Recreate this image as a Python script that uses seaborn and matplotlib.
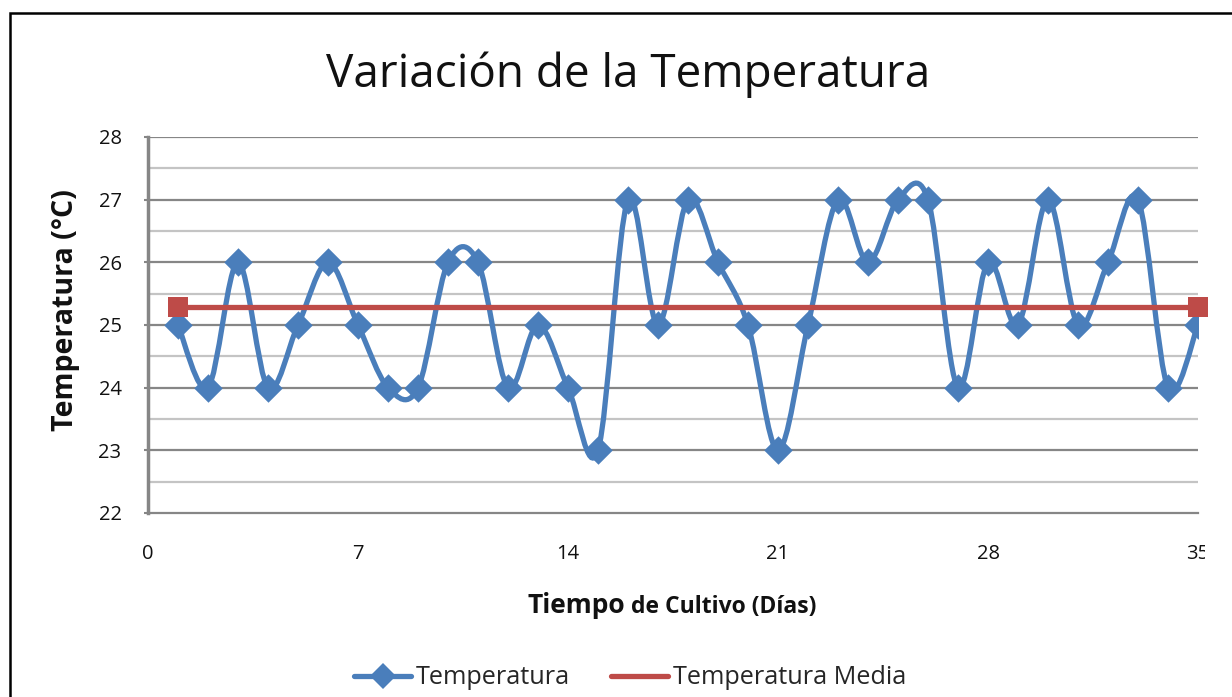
import numpy as np
import pandas as pd
import matplotlib.pyplot as plt
import matplotlib.patches as mpatches
from matplotlib.path import Path
from matplotlib.transforms import Bbox
from matplotlib.lines import Line2D
import seaborn as sns

# ── Data ──────────────────────────────────────────────────────
dias = list(range(1, 36))
temperatura = [25, 24, 26, 24, 25, 26, 25, 24, 24, 26,
               26, 24, 25, 24, 23, 27, 25, 27, 26, 25,
               23, 25, 27, 26, 27, 27, 24, 26, 25, 27,
               25, 26, 27, 24, 25]
x_ticks = [0, 7, 14, 21, 28, 35]
y_ticks = [22, 23, 24, 25, 26, 27, 28]

media = float(np.mean(temperatura))
df = pd.DataFrame({"dia": dias, "temp": temperatura,
                   "media": [media] * len(dias)})

BLUE = "#4A7EBB"
RED = "#BE4B48"
GRID_MAJOR = "#868686"
GRID_MINOR = "#C4C4C4"

# ── Style ─────────────────────────────────────────────────────
sns.set_theme(style="white")
plt.rcParams["font.family"] = ["Open Sans", "DejaVu Sans"]

fig = plt.figure(figsize=(12.32, 6.97), dpi=100)
ax = fig.add_axes([148 / 1232, 1 - 513 / 697, 1050 / 1232, 376 / 697])

# grid
for y in np.arange(22.5, 28, 1.0):
    ax.axhline(y, color=GRID_MINOR, lw=1.6, zorder=0)
for y in y_ticks[1:]:
    ax.axhline(y, color=GRID_MAJOR, lw=1.6, zorder=0)


def smooth_path(xs, ys):
    """Excel-style smoothed line as a cubic Bezier path."""
    pts = np.column_stack([xs, ys]).astype(float)
    n = len(pts)
    verts = [pts[0]]
    codes = [Path.MOVETO]
    for i in range(n - 1):
        p0 = pts[i - 1] if i > 0 else pts[i]
        p1 = pts[i]
        p2 = pts[i + 1]
        p3 = pts[i + 2] if i + 2 < n else pts[i + 1]
        c1 = p1 + (p2 - p0) / 6.0
        c2 = p2 - (p3 - p1) / 6.0
        verts += [c1, c2, p2]
        codes += [Path.CURVE4] * 3
    return Path(verts, codes)


ax.add_patch(mpatches.PathPatch(smooth_path(df["dia"], df["temp"]),
                                facecolor="none", edgecolor=BLUE,
                                lw=3.8, capstyle="round", zorder=3))
sns.scatterplot(data=df, x="dia", y="temp", marker="D", s=210,
                color=BLUE, edgecolor=BLUE, linewidth=0, zorder=4,
                ax=ax, legend=False)

sns.lineplot(data=df, x="dia", y="media", color=RED, lw=3.8,
             zorder=5, ax=ax, legend=False)
ends = df.iloc[[0, -1]]
sns.scatterplot(data=ends, x="dia", y="media", marker="s", s=190,
                color=RED, edgecolor=RED, linewidth=0, zorder=6,
                ax=ax, legend=False, clip_on=False)

ax.set_xlim(0, 35)
ax.set_ylim(22, 28)
ax.set_xticks(x_ticks)
ax.set_yticks(y_ticks)
ax.tick_params(axis="x", length=0, pad=22, labelsize=14.5)
ax.tick_params(axis="y", length=3, width=1.5, color=GRID_MAJOR,
               pad=16, labelsize=14.5, left=True)
for lbl in ax.get_xticklabels() + ax.get_yticklabels():
    lbl.set_color("#111111")

# the chart is cut on the right edge of the picture
clip = Bbox.from_extents(0, 0, 1205, 697)
for lbl in ax.get_xticklabels():
    lbl.set_clip_box(clip)
    lbl.set_clip_on(True)

for side in ["top", "right"]:
    ax.spines[side].set_visible(False)
ax.spines["left"].set_color(GRID_MAJOR)
ax.spines["left"].set_linewidth(2.5)
ax.spines["bottom"].set_color(GRID_MAJOR)
ax.spines["bottom"].set_linewidth(1.6)

ax.set_xlabel("")
ax.set_ylabel("")
fig.text(66 / 1232, 1 - 310 / 697, "Temperatura (°C)", fontsize=20.5,
         fontweight="bold", rotation=90, ha="center", va="center",
         color="#111111")

# x label, "Tiempo" slightly larger than the rest
t1 = fig.text(527 / 1232, 1 - 613 / 697, "Tiempo", fontsize=19,
              fontweight="bold", ha="left", va="baseline", color="#111111")
ax.annotate(" de Cultivo (Días)", xy=(1, 0), xycoords=t1,
            fontsize=16.5, fontweight="bold", ha="left", va="bottom",
            color="#111111")

fig.text(628 / 1232, 1 - 75 / 697, "Variación de la Temperatura",
         fontsize=33, ha="center", va="center", color="#111111")

handles = [
    Line2D([], [], color=BLUE, lw=3.8, marker="D", markersize=13,
           markeredgewidth=0),
    Line2D([], [], color=RED, lw=3.8),
]
fig.legend(handles, ["Temperatura", "Temperatura Media"],
           loc="center", bbox_to_anchor=(630 / 1232, 1 - 678 / 697),
           ncol=2, frameon=False, fontsize=18.2, handlelength=2.25,
           handletextpad=0.2, columnspacing=1.6)

# outer chart frame (runs off the right and bottom edges)
fig.patches.append(mpatches.Rectangle((10 / 1232, -0.1), 1.2, 1 - 13 / 697 + 0.1,
                                      transform=fig.transFigure,
                                      fill=False, edgecolor="black", lw=1.8))

fig.savefig("out.png", dpi=100)
